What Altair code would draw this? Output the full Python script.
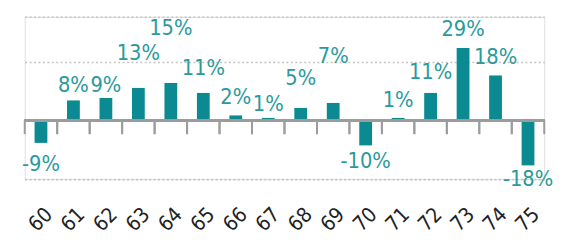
import altair as alt
import pandas as pd

years = ["60", "61", "62", "63", "64", "65", "66", "67",
         "68", "69", "70", "71", "72", "73", "74", "75"]
changes = [-9, 8, 9, 13, 15, 11, 2, 1, 5, 7, -10, 1, 11, 29, 18, -18]
labels = [f"{v}%" for v in changes]
# where each value annotation sits (in % units), staggered as in the original
label_anchor = [-17.3, 14.2, 14.2, 26.8, 37.0, 20.9, 9.4, 6.7,
                16.9, 25.6, -16.1, 8.3, 19.3, 36.6, 25.2, -23.6]
grid_values = [-23.5, 23.5, 41.5]

FONT = "DejaVu Sans Condensed, Roboto, sans-serif"
TEAL = "#0b8a91"
TEXT_TEAL = "#2a9a9c"
AXIS_GRAY = "#9c9c9c"
TICK_LEN = 5.5  # tick length expressed in % units

df = pd.DataFrame({"year": years, "change": changes,
                   "label": labels, "anchor": label_anchor})
df["base"] = 0.0
df["tick_end"] = -TICK_LEN

yscale = alt.Scale(domain=[-23.5, 41.5], nice=False, zero=False)
xscale = alt.Scale(paddingInner=0, paddingOuter=0)

xaxis = alt.Axis(
    title=None, labelAngle=315, labelAlign="center", labelBaseline="middle",
    labelPadding=41, labelFontSize=21, labelFont=FONT, labelColor="#222222",
    ticks=False, domain=False, grid=False,
)
yaxis = alt.Axis(
    title=None, labels=False, ticks=False, domain=False, values=grid_values,
    grid=True, gridColor="#c4c4c4", gridWidth=1.6, gridDash=[2, 2.5],
)

bars = alt.Chart(df).mark_bar(color=TEAL, size=13).encode(
    x=alt.X("year:N", sort=years, scale=xscale, axis=xaxis),
    y=alt.Y("change:Q", scale=yscale, axis=yaxis),
)

zero_line = alt.Chart(df).mark_rule(color=AXIS_GRAY, strokeWidth=2).encode(
    y=alt.Y("base:Q")
)

ticks_right = alt.Chart(df).mark_rule(color=AXIS_GRAY, strokeWidth=2).encode(
    x=alt.X("year:N", sort=years, bandPosition=1),
    y=alt.Y("base:Q"),
    y2="tick_end:Q",
)
ticks_left = alt.Chart(df).mark_rule(color=AXIS_GRAY, strokeWidth=2).encode(
    x=alt.X("year:N", sort=years, bandPosition=0),
    y=alt.Y("base:Q"),
    y2="tick_end:Q",
)

text = alt.Chart(df).mark_text(
    font=FONT, fontSize=22, color=TEXT_TEAL, baseline="middle", align="center"
).encode(
    x=alt.X("year:N", sort=years),
    y=alt.Y("anchor:Q"),
    text="label:N",
)

chart = alt.layer(bars, zero_line, ticks_right, ticks_left, text).properties(
    width=528, height=165,
    padding={"left": 14, "top": 7, "right": 5, "bottom": 5},
).configure_view(stroke="transparent", strokeWidth=0).configure(background="white")

chart.save("out.html", embed_options={"renderer": "svg", "actions": False})
